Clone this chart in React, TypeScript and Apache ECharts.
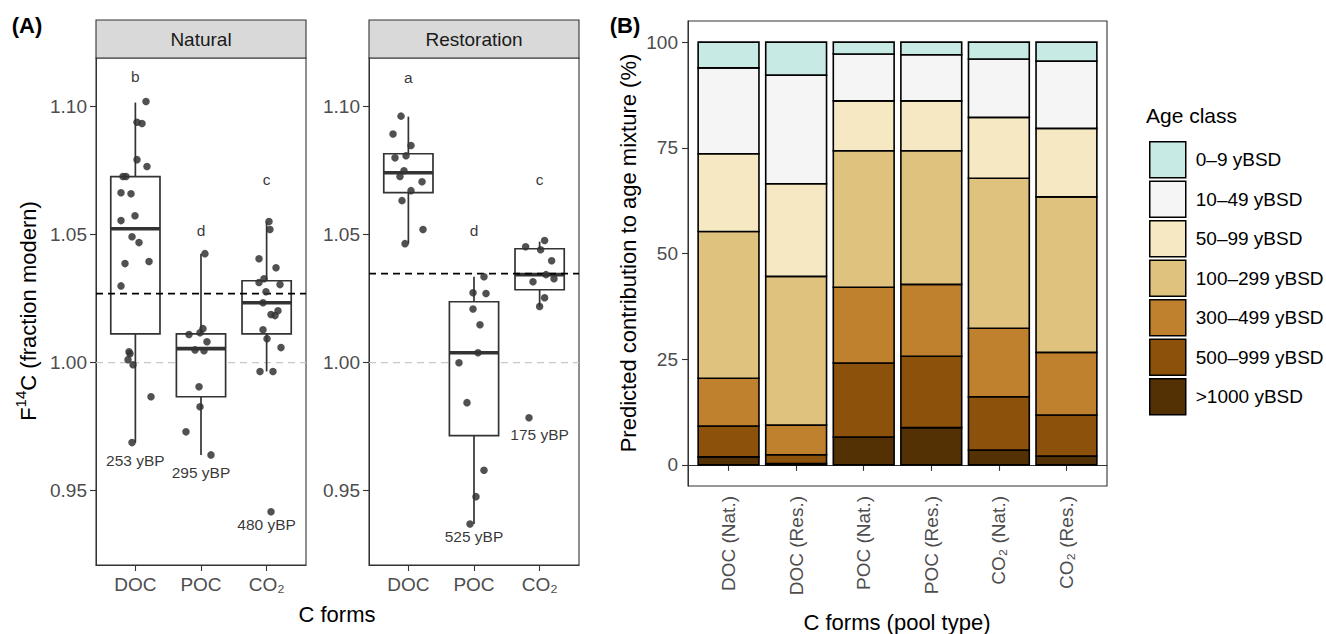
import React, { useEffect, useRef } from "react";
import * as echarts from "echarts";

const FONT = "'Liberation Sans', Arial, Helvetica, sans-serif";

// ---------- Panel A data ----------
const FORMS = ["DOC", "POC", "CO₂"];
const PANELS = ["Natural", "Restoration"];
const A_TICKS = [0.95, 1.0, 1.05, 1.1];

// [x (category position + jitter), F14C]
const NATURAL_POINTS = [
  [1.162, 1.102], [1.025, 1.0939], [1.101, 1.0934], [1.025, 1.0793], [1.177, 1.0766],
  [0.811, 1.0727], [0.857, 1.0727], [0.781, 1.0664], [0.933, 1.066], [0.994, 1.0574],
  [0.781, 1.0555], [0.949, 1.0492], [1.055, 1.0469], [0.842, 1.0387], [1.208, 1.0395],
  [0.781, 1.03], [0.903, 1.0043], [0.918, 1.0035], [0.888, 1.0012], [0.964, 0.9992],
  [1.238, 0.9867], [0.949, 0.9688],
  [2.06, 1.0426], [1.817, 1.011], [1.985, 1.0117], [2.03, 1.0133], [2.091, 1.0082],
  [1.909, 1.005], [2.046, 1.0047], [1.97, 0.9906], [1.985, 0.9828], [1.771, 0.973],
  [2.152, 0.964],
  [3.036, 1.0551], [3.05, 1.052], [2.884, 1.0406], [3.143, 1.0371], [2.884, 1.0313],
  [2.96, 1.0328], [3.204, 1.0305], [2.99, 1.0277], [2.945, 1.0234], [3.173, 1.0203],
  [3.067, 1.0188], [3.128, 1.0184], [2.945, 1.0129], [3.006, 1.0094], [3.219, 1.0059],
  [2.899, 0.9966], [3.097, 0.9966], [3.067, 0.9418],
];
const RESTORATION_POINTS = [
  [0.888, 1.0963], [0.766, 1.0893], [1.04, 1.0848], [0.796, 1.08], [0.964, 1.0808],
  [0.933, 1.075], [0.872, 1.0727], [1.208, 1.0707], [1.04, 1.0672], [0.903, 1.0633],
  [1.223, 1.052], [0.949, 1.0465],
  [2.152, 1.0336], [1.985, 1.0273], [2.183, 1.027], [1.985, 1.021], [2.091, 1.0148],
  [2.061, 1.0039], [1.771, 1.0], [1.893, 0.9844], [2.152, 0.958], [2.03, 0.9477],
  [1.939, 0.937],
  [3.076, 1.0477], [2.787, 1.0453], [3.015, 1.0441], [3.183, 1.0398], [3.097, 1.0344],
  [3.219, 1.0328], [2.899, 1.0316], [3.076, 1.0254], [3.0, 1.022], [2.838, 0.9785],
];
// [x, lower whisker, Q1, median, Q3, upper whisker]
const NATURAL_BOXES = [
  [1, 0.9688, 1.0113, 1.0523, 1.0727, 1.1016],
  [2, 0.964, 0.9867, 1.0055, 1.0113, 1.0426],
  [3, 0.9966, 1.0113, 1.0234, 1.032, 1.0551],
];
const RESTORATION_BOXES = [
  [1, 1.0465, 1.0664, 1.0742, 1.0816, 1.0961],
  [2, 0.937, 0.9715, 1.0039, 1.0238, 1.0336],
  [3, 1.0219, 1.0285, 1.0344, 1.0445, 1.0473],
];
const MEAN_LINES = [1.027, 1.0348];
const MODERN = 1.0;
const NATURAL_LETTERS = ["b", "d", "c"];
const RESTORATION_LETTERS = ["a", "d", "c"];
const LETTER_Y = [[1.1117, 1.0516, 1.0715], [1.1113, 1.0516, 1.0715]];
const NATURAL_AGES = [[1, 0.9617, "253 yBP"], [2, 0.957, "295 yBP"], [3, 0.9367, "480 yBP"]];
const RESTORATION_AGES = [[2, 0.932, "525 yBP"], [3, 0.9719, "175 yBP"]];

// ---------- Panel B data ----------
const POOLS = ["DOC (Nat.)", "DOC (Res.)", "POC (Nat.)", "POC (Res.)", "CO₂ (Nat.)", "CO₂ (Res.)"];
const B_TICKS = [0, 25, 50, 75, 100];
const AGE_CLASSES = [">1000 yBSD", "500–999 yBSD", "300–499 yBSD", "100–299 yBSD", "50–99 yBSD", "10–49 yBSD", "0–9 yBSD"];
const AGE_COLORS = ["#543005", "#8C510A", "#BF812D", "#DFC27D", "#F6E8C3", "#F5F5F5", "#C7EAE5"];
const AGE_GT1000 = [1.9, 0.3, 6.6, 8.8, 3.5, 2.1];
const AGE_500_999 = [7.3, 2.1, 17.5, 16.9, 12.6, 9.7];
const AGE_300_499 = [11.3, 7.0, 17.9, 17.0, 16.2, 14.8];
const AGE_100_299 = [34.7, 35.2, 32.3, 31.6, 35.5, 36.8];
const AGE_50_99 = [18.4, 21.9, 11.8, 11.8, 14.4, 16.2];
const AGE_10_49 = [20.3, 25.7, 11.1, 10.9, 13.8, 15.9];
const AGE_0_9 = [6.1, 7.8, 2.8, 3.0, 4.0, 4.5];
const AGE_VALUES = [AGE_GT1000, AGE_500_999, AGE_300_499, AGE_100_299, AGE_50_99, AGE_10_49, AGE_0_9];

const TICK_COLOR = "#4D4D4D";
const LINE_COLOR = "#333333";

const GRIDS = [
  { left: 96, top: 58, width: 210, height: 507 },
  { left: 369, top: 58, width: 210, height: 507 },
  { left: 688, top: 21, width: 419, height: 465 },
];

function boxRender(params: any, api: any) {
  const x = api.value(0);
  const lo = api.coord([x, api.value(1)]);
  const q1 = api.coord([x, api.value(2)]);
  const med = api.coord([x, api.value(3)]);
  const q3 = api.coord([x, api.value(4)]);
  const hi = api.coord([x, api.value(5)]);
  const half = api.size([0.75, 0])[0] / 2;
  const st = { stroke: LINE_COLOR, lineWidth: 1.7, fill: "none" };
  return {
    type: "group",
    children: [
      { type: "line", shape: { x1: lo[0], y1: lo[1], x2: q1[0], y2: q1[1] }, style: st },
      { type: "line", shape: { x1: q3[0], y1: q3[1], x2: hi[0], y2: hi[1] }, style: st },
      {
        type: "rect",
        shape: { x: q3[0] - half, y: q3[1], width: 2 * half, height: q1[1] - q3[1] },
        style: { fill: "#ffffff", stroke: LINE_COLOR, lineWidth: 1.7 },
      },
      {
        type: "line",
        shape: { x1: med[0] - half, y1: med[1], x2: med[0] + half, y2: med[1] },
        style: { stroke: LINE_COLOR, lineWidth: 3.6 },
      },
    ],
  };
}

function hlineRender(color: string, width: number) {
  return (params: any, api: any) => {
    const a = api.coord([api.value(0), api.value(2)]);
    const b = api.coord([api.value(1), api.value(2)]);
    return {
      type: "line",
      shape: { x1: a[0], y1: a[1], x2: b[0], y2: b[1] },
      style: { stroke: color, lineWidth: width, lineDash: [7, 5], fill: "none" },
    };
  };
}

function barRender(color: string) {
  return (params: any, api: any) => {
    const x = api.value(0);
    const b = api.coord([x, api.value(1)]);
    const t = api.coord([x, api.value(2)]);
    const w = api.size([0.9, 0])[0];
    return {
      type: "rect",
      shape: { x: b[0] - w / 2, y: t[1], width: w, height: b[1] - t[1] },
      style: { fill: color, stroke: "#000", lineWidth: 1.6 },
    };
  };
}

export default function App() {
  const ref = useRef<HTMLDivElement>(null);
  useEffect(() => {
    document.body.style.margin = "0";
    const chart = echarts.init(ref.current!, undefined, { renderer: "svg" });

    const axisCommon = {
      axisLine: { show: true, lineStyle: { color: LINE_COLOR, width: 1 } },
      axisTick: { show: true, length: 6, lineStyle: { color: LINE_COLOR, width: 1.1 } },
      splitLine: { show: false },
    };

    const xAxes: any[] = [0, 1].map((i) => ({
      ...axisCommon,
      gridIndex: i,
      type: "value",
      min: 0.4,
      max: 3.6,
      axisTick: { ...axisCommon.axisTick, customValues: [1, 2, 3] },
      axisLabel: {
        customValues: [1, 2, 3],
        formatter: (v: number) => FORMS[Math.round(v) - 1],
        color: TICK_COLOR,
        fontSize: 19,
        fontFamily: FONT,
        margin: 10,
      },
    }));
    xAxes.push({
      ...axisCommon,
      gridIndex: 2,
      type: "value",
      min: 0.4,
      max: 6.6,
      axisTick: { ...axisCommon.axisTick, customValues: [1, 2, 3, 4, 5, 6] },
      axisLabel: {
        customValues: [1, 2, 3, 4, 5, 6],
        formatter: (v: number) => POOLS[Math.round(v) - 1],
        rotate: 90,
        color: TICK_COLOR,
        fontSize: 19,
        fontFamily: FONT,
        margin: 10,
      },
    });

    const yAxes: any[] = [0, 1].map((i) => ({
      ...axisCommon,
      gridIndex: i,
      type: "value",
      min: 0.921,
      max: 1.119,
      axisTick: { ...axisCommon.axisTick, customValues: A_TICKS },
      axisLabel: {
        customValues: A_TICKS,
        formatter: (v: number) => v.toFixed(2),
        color: TICK_COLOR,
        fontSize: 19,
        fontFamily: FONT,
        margin: 9,
      },
    }));
    yAxes.push({
      ...axisCommon,
      gridIndex: 2,
      type: "value",
      min: -5,
      max: 105,
      axisTick: { ...axisCommon.axisTick, customValues: B_TICKS },
      axisLabel: {
        customValues: B_TICKS,
        formatter: (v: number) => String(v),
        color: TICK_COLOR,
        fontSize: 19,
        fontFamily: FONT,
        margin: 10,
      },
    });

    const series: any[] = [];
    const pointsList = [NATURAL_POINTS, RESTORATION_POINTS];
    const boxesList = [NATURAL_BOXES, RESTORATION_BOXES];
    const lettersList = [NATURAL_LETTERS, RESTORATION_LETTERS];
    const agesList = [NATURAL_AGES, RESTORATION_AGES];

    [0, 1].forEach((i) => {
      series.push({
        type: "custom",
        xAxisIndex: i,
        yAxisIndex: i,
        renderItem: hlineRender("#C8C8C8", 1.3),
        encode: { x: [0, 1], y: 2 },
        data: [[0.4, 3.6, MODERN]],
        z: 1,
        silent: true,
      });
      series.push({
        type: "custom",
        xAxisIndex: i,
        yAxisIndex: i,
        renderItem: boxRender,
        encode: { x: 0, y: [1, 2, 3, 4, 5] },
        data: boxesList[i],
        z: 2,
        silent: true,
      });
      series.push({
        type: "custom",
        xAxisIndex: i,
        yAxisIndex: i,
        renderItem: hlineRender("#000000", 1.6),
        encode: { x: [0, 1], y: 2 },
        data: [[0.4, 3.6, MEAN_LINES[i]]],
        z: 3,
        silent: true,
      });
      series.push({
        type: "scatter",
        xAxisIndex: i,
        yAxisIndex: i,
        data: pointsList[i],
        symbolSize: 7.5,
        itemStyle: { color: "#333333", opacity: 0.85 },
        z: 4,
        silent: true,
      });
      series.push({
        type: "scatter",
        xAxisIndex: i,
        yAxisIndex: i,
        symbolSize: 1,
        itemStyle: { color: "transparent" },
        data: lettersList[i].map((t, k) => ({ value: [k + 1, LETTER_Y[i][k]], name: t })),
        label: {
          show: true,
          position: "inside",
          formatter: "{b}",
          fontSize: 15.5,
          color: "#000",
          fontFamily: FONT,
        },
        z: 5,
        silent: true,
      });
      series.push({
        type: "scatter",
        xAxisIndex: i,
        yAxisIndex: i,
        symbolSize: 1,
        itemStyle: { color: "transparent" },
        data: agesList[i].map((a: any) => ({ value: [a[0], a[1]], name: a[2] })),
        label: {
          show: true,
          position: "inside",
          formatter: "{b}",
          fontSize: 15.5,
          color: "#000",
          fontFamily: FONT,
        },
        z: 5,
        silent: true,
      });
    });

    AGE_CLASSES.forEach((name, k) => {
      const data = AGE_VALUES[k].map((v, j) => {
        let bottom = 0;
        for (let m = 0; m < k; m++) bottom += AGE_VALUES[m][j];
        return [j + 1, bottom, bottom + v];
      });
      series.push({
        type: "custom",
        name,
        xAxisIndex: 2,
        yAxisIndex: 2,
        renderItem: barRender(AGE_COLORS[k]),
        encode: { x: 0, y: [1, 2] },
        data,
        itemStyle: { color: AGE_COLORS[k], borderColor: "#000", borderWidth: 1.5 },
        silent: true,
      });
    });

    const text = (t: string, x: number, y: number, size: number, extra: any = {}) => ({
      type: "text",
      x,
      y,
      rotation: extra.rotation || 0,
      silent: true,
      style: {
        text: t,
        fontSize: size,
        fontFamily: FONT,
        fontWeight: extra.bold ? "bold" : "normal",
        fill: extra.fill || "#000",
        textAlign: extra.align || "center",
        textVerticalAlign: "middle",
        ...(extra.rich ? { rich: extra.rich } : {}),
      },
    });

    const graphic: any[] = [];
    PANELS.forEach((p, i) => {
      const g = GRIDS[i];
      graphic.push({
        type: "rect",
        silent: true,
        shape: { x: g.left, y: 20, width: g.width, height: g.top - 20 },
        style: { fill: "#D9D9D9", stroke: LINE_COLOR, lineWidth: 1.1 },
      });
      graphic.push(text(p, g.left + g.width / 2, 39.5, 19, { fill: "#1A1A1A" }));
    });
    graphic.push(text("(A)", 27, 25, 22, { bold: true }));
    graphic.push(text("(B)", 625, 25, 22, { bold: true }));
    graphic.push(
      text("{n|F}{s|14}{n|C (fraction modern)}", 26, 311, 22, {
        rotation: Math.PI / 2,
        rich: {
          n: { fontSize: 22, fontFamily: FONT, fill: "#000", lineHeight: 26, verticalAlign: "bottom" },
          s: { fontSize: 15, fontFamily: FONT, fill: "#000", lineHeight: 26, verticalAlign: "top" },
        },
      })
    );
    graphic.push(text("C forms", 337, 614, 22));
    graphic.push(text("Predicted contribution to age mixture (%)", 628, 253, 22, { rotation: Math.PI / 2 }));
    graphic.push(text("C forms (pool type)", 897, 622, 22));
    graphic.push(text("Age class", 1146, 115, 21, { align: "left" }));

    chart.setOption({
      animation: false,
      backgroundColor: "#ffffff",
      grid: GRIDS.map((g) => ({
        ...g,
        show: true,
        borderColor: LINE_COLOR,
        borderWidth: 1.1,
        backgroundColor: "#ffffff",
        containLabel: false,
      })),
      xAxis: xAxes,
      yAxis: yAxes,
      legend: {
        orient: "vertical",
        left: 1144,
        top: 136,
        itemWidth: 36,
        itemHeight: 36,
        itemGap: 2,
        icon: "rect",
        selectedMode: false,
        data: [...AGE_CLASSES].reverse(),
        textStyle: { fontSize: 19, color: "#000", fontFamily: FONT, padding: [0, 0, 0, 5] },
        itemStyle: { borderColor: "#000", borderWidth: 1.5 },
      },
      graphic,
      series,
    });
    return () => chart.dispose();
  }, []);
  return <div ref={ref} style={{ width: 1326, height: 634 }} />;
}
